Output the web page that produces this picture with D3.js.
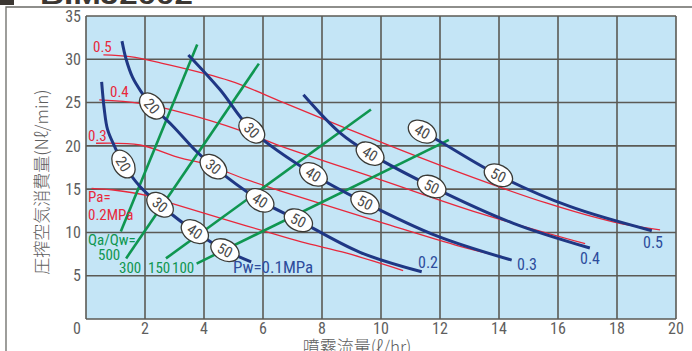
<!DOCTYPE html>
<html>
<head>
<meta charset="utf-8">
<script src="https://cdn.jsdelivr.net/npm/d3@7/dist/d3.min.js"></script>
<style>
  body { margin: 0; background: #ffffff; }
  svg { display: block; }
</style>
</head>
<body>
<svg id="chart" width="692" height="351"></svg>
<script>
// Axis ticks
const xTicks = [0, 2, 4, 6, 8, 10, 12, 14, 16, 18, 20];
const yTicks = [0, 5, 10, 15, 20, 25, 30, 35];

// Water pressure (Pw) curves: [spray flow ℓ/hr, air consumption Nℓ/min]
const pwLevels = ["0.1", "0.2", "0.3", "0.4", "0.5"];
const pw01 = [[0.53, 27.4], [0.62, 24.2], [0.73, 21.9], [0.96, 20.0], [1.27, 17.9], [1.83, 15.3], [2.51, 13.2], [3.69, 10.1], [4.71, 7.95], [5.60, 6.6]];
const pw02 = [[1.22, 32.1], [1.36, 30.0], [1.58, 27.9], [1.86, 26.3], [2.24, 24.6], [2.94, 22.3], [3.73, 19.4], [4.32, 17.6], [5.90, 13.7], [7.20, 11.4], [9.29, 7.7], [11.38, 5.45]];
const pw03 = [[3.47, 30.5], [4.54, 26.5], [5.62, 21.8], [7.71, 16.7], [9.46, 13.45], [11.89, 9.6], [14.43, 6.8]];
const pw04 = [[7.37, 25.9], [8.61, 21.5], [9.63, 19.1], [11.72, 15.3], [14.49, 11.05], [17.08, 8.2]];
const pw05 = [[11.32, 21.8], [12.0, 20.5], [13.98, 16.6], [16.4, 13.0], [19.18, 10.2]];
const pwCurves = [pw01, pw02, pw03, pw04, pw05];

// Size labels placed along each Pw curve: [Pw index, spray flow, text]
const sizeLabels = [
  [0, 1.27, "20"], [0, 2.51, "30"], [0, 3.69, "40"], [0, 4.71, "50"],
  [1, 2.24, "20"], [1, 4.32, "30"], [1, 5.90, "40"], [1, 7.20, "50"],
  [2, 5.62, "30"], [2, 7.71, "40"], [2, 9.46, "50"],
  [3, 9.63, "40"], [3, 11.72, "50"],
  [4, 11.40, "40"], [4, 13.98, "50"]
];

// Air pressure (Pa) curves
const paLevels = ["0.2", "0.3", "0.4", "0.5"];
const pa02 = [[0.19, 15.1], [0.93, 14.9], [2.0, 14.3], [2.96, 13.3], [4.5, 11.7], [5.9, 10.3], [7.3, 8.9], [8.84, 7.6], [10.75, 5.6]];
const pa03 = [[0.34, 20.3], [1.83, 20.1], [3.19, 18.6], [3.96, 18.0], [5.45, 16.1], [6.58, 14.8], [9.97, 11.2], [12.68, 8.4], [14.1, 7.2]];
const pa04 = [[0.45, 25.3], [1.83, 24.9], [3.19, 23.9], [5.22, 21.8], [6.58, 20.0], [9.97, 16.1], [13.36, 12.2], [16.92, 8.7]];
const pa05 = [[0.59, 30.5], [1.49, 30.3], [2.62, 29.5], [4.88, 27.5], [6.7, 25.0], [8.84, 22.0], [11.97, 17.8], [15.6, 13.4], [17.9, 11.2], [19.46, 10.3]];
const paCurves = [pa02, pa03, pa04, pa05];

// Air/water ratio (Qa/Qw) lines: start and end points
const ratioLevels = ["500", "300", "150", "100"];
const ratio500 = [[1.18, 10.1], [3.77, 31.7]];
const ratio300 = [[1.36, 7.0], [5.86, 29.5]];
const ratio150 = [[2.71, 7.0], [9.66, 24.2]];
const ratio100 = [[3.75, 6.4], [12.3, 20.7]];
const ratioLines = [ratio500, ratio300, ratio150, ratio100];

const svg = d3.select("#chart");
const W = 692, H = 351;
const plot = { left: 86, right: 676, top: 16, bottom: 319 };

const x = d3.scaleLinear().domain([0, 20]).range([plot.left, plot.right]);
const y = d3.scaleLinear().domain([0, 35]).range([plot.bottom, plot.top]);

const numFont = "'Liberation Sans Narrow', 'Roboto Condensed', 'Liberation Sans', sans-serif";
const cjkFont = "'Noto Sans CJK JP', 'Noto Sans', sans-serif";
const gridColor = "#5b5a55";
const blue = "#1f3784";
const red = "#e8283c";
const green = "#0f9650";
const textGray = "#5e5e5e";

// Header: dark tab and model name cut off at the top edge
svg.append("rect").attr("x", 0).attr("y", -2).attr("width", 14).attr("height", 7).attr("fill", "#3b3632");
svg.append("text")
  .attr("x", 40).attr("y", 4)
  .attr("font-family", "'Liberation Sans', sans-serif")
  .attr("font-weight", "bold").attr("font-size", 26)
  .attr("textLength", 153).attr("lengthAdjust", "spacingAndGlyphs")
  .attr("fill", "#3b3632")
  .text("BIMJ2002");

// Outer frame
svg.append("path")
  .attr("d", `M6,${H} V7 H${W}`)
  .attr("fill", "none").attr("stroke", "#6a6a66").attr("stroke-width", 1.3);

// Plot background
svg.append("rect")
  .attr("x", plot.left).attr("y", plot.top)
  .attr("width", plot.right - plot.left).attr("height", plot.bottom - plot.top)
  .attr("fill", "#c4e5f6");

// Grid
const grid = svg.append("g").attr("stroke", gridColor).attr("stroke-width", 1.6);
xTicks.forEach(t => grid.append("line").attr("x1", x(t)).attr("x2", x(t)).attr("y1", plot.top).attr("y2", plot.bottom));
yTicks.forEach(t => grid.append("line").attr("x1", plot.left).attr("x2", plot.right).attr("y1", y(t)).attr("y2", y(t)));

// Tick labels
const tickStyle = sel => sel.attr("font-family", numFont).attr("font-size", 16).attr("fill", textGray);
svg.append("g").call(tickStyle)
  .selectAll("text").data(yTicks.filter(d => d > 0)).join("text")
  .attr("x", 81).attr("y", d => y(d)).attr("dy", "0.36em").attr("text-anchor", "end")
  .text(d => d);
svg.append("text").call(tickStyle)
  .attr("x", 81).attr("y", 328).attr("dy", "0.36em").attr("text-anchor", "end").text("0");
svg.append("g").call(tickStyle)
  .selectAll("text").data(xTicks.filter(d => d > 0)).join("text")
  .attr("x", d => x(d)).attr("y", 328).attr("dy", "0.36em").attr("text-anchor", "middle")
  .text(d => d);

// Axis titles
svg.append("text")
  .attr("transform", "translate(48,182) rotate(-90)")
  .attr("text-anchor", "middle")
  .attr("font-family", cjkFont).attr("font-size", 17).attr("font-weight", 300).attr("fill", textGray)
  .text("圧搾空気消費量(Nℓ/min)");
svg.append("text")
  .attr("x", 357).attr("y", 353)
  .attr("text-anchor", "middle")
  .attr("font-family", cjkFont).attr("font-size", 17).attr("font-weight", 300).attr("fill", textGray)
  .text("噴霧流量(ℓ/hr)");

const smooth = d3.line().x(d => x(d[0])).y(d => y(d[1])).curve(d3.curveCatmullRom.alpha(0.5));
const straight = d3.line().x(d => x(d[0])).y(d => y(d[1]));

// Air pressure curves
svg.append("g").selectAll("path").data(paCurves).join("path")
  .attr("d", smooth).attr("fill", "none").attr("stroke", red).attr("stroke-width", 1.3);

// Air/water ratio lines
svg.append("g").selectAll("path").data(ratioLines).join("path")
  .attr("d", straight).attr("fill", "none").attr("stroke", green).attr("stroke-width", 2.6);

// Water pressure curves
const pwPaths = svg.append("g").selectAll("path").data(pwCurves).join("path")
  .attr("d", smooth).attr("fill", "none").attr("stroke", blue).attr("stroke-width", 3)
  .attr("stroke-linecap", "butt");

// Find the point on a curve at a given spray flow, with its direction
function pointAtX(pathNode, px) {
  const total = pathNode.getTotalLength();
  let lo = 0, hi = total;
  for (let i = 0; i < 40; i++) {
    const mid = (lo + hi) / 2;
    if (pathNode.getPointAtLength(mid).x < px) lo = mid; else hi = mid;
  }
  const l = (lo + hi) / 2;
  const p = pathNode.getPointAtLength(l);
  const a = pathNode.getPointAtLength(Math.max(0, l - 4));
  const b = pathNode.getPointAtLength(Math.min(total, l + 4));
  const angle = Math.atan2(b.y - a.y, b.x - a.x) * 180 / Math.PI;
  return { x: p.x, y: p.y, angle };
}

const nodes = pwPaths.nodes();
const badges = svg.append("g");
sizeLabels.forEach(([ci, fx, txt]) => {
  const p = pointAtX(nodes[ci], x(fx));
  const g = badges.append("g").attr("transform", `translate(${p.x},${p.y}) rotate(${p.angle})`);
  g.append("ellipse").attr("rx", 15).attr("ry", 10.2)
    .attr("fill", "#ffffff").attr("stroke", "#3a3a36").attr("stroke-width", 1.3);
  g.append("text").attr("text-anchor", "middle").attr("dy", "0.36em")
    .attr("font-family", numFont).attr("font-size", 15).attr("fill", "#4a4a4a")
    .text(txt);
});

// Curve captions
const caption = (tx, ty, str, color, size = 15) =>
  svg.append("text").attr("x", tx).attr("y", ty)
    .attr("font-family", numFont).attr("font-size", size).attr("fill", color).text(str);

// Air pressure captions
caption(93, 52, paLevels[3], red);
caption(110, 97, paLevels[2], red);
caption(88, 141, paLevels[1], red);
caption(88, 202, "Pa=", red);
caption(88, 220, paLevels[0] + "MPa", red);

// Ratio captions
caption(88, 245, "Qa/Qw=", green);
caption(98, 260, ratioLevels[0], green);
caption(119, 273, ratioLevels[1], green);
caption(148, 273, ratioLevels[2], green);
caption(172, 273, ratioLevels[3], green);

// Water pressure captions
const pwText = "#2d4c9c";
caption(233, 273, "Pw=" + pwLevels[0] + "MPa", pwText, 17);
caption(418, 268, pwLevels[1], pwText, 16);
caption(517, 270, pwLevels[2], pwText, 16);
caption(580, 264, pwLevels[3], pwText, 16);
caption(643, 248, pwLevels[4], pwText, 16);
</script>
</body>
</html>
